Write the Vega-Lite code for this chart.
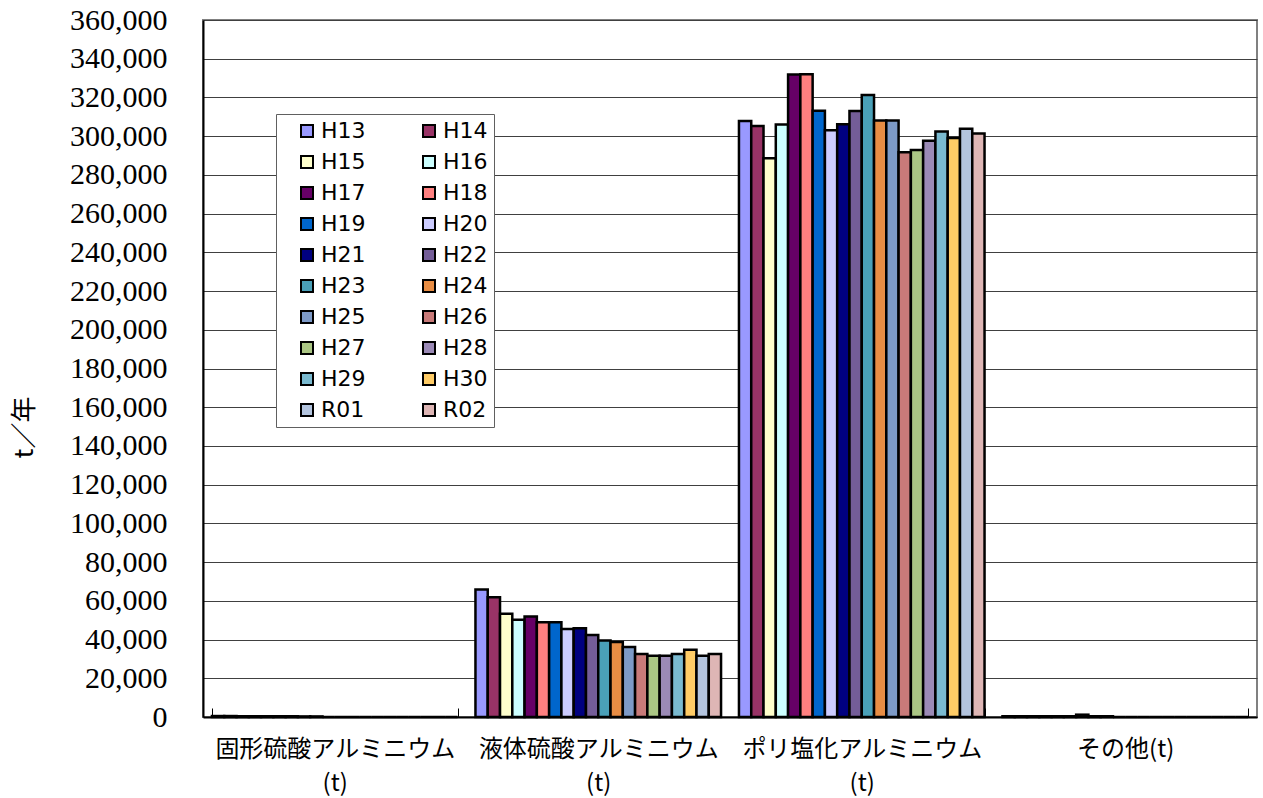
{
  "$schema": "https://vega.github.io/schema/vega-lite/v6.json",
  "autosize": {"type": "none"},
  "padding": {"left": 203, "top": 20, "right": 6, "bottom": 81},
  "width": 1054,
  "height": 697,
  "background": "white",
  "config": {
    "view": {"stroke": "#808080", "strokeWidth": 2},
    "axis": {"labelColor": "black", "titleColor": "black"}
  },
  "datasets": {
    "main": [
      {"cat": "固形硫酸アルミニウム(t)", "year": "H13", "v": 500},
      {"cat": "固形硫酸アルミニウム(t)", "year": "H14", "v": 500},
      {"cat": "固形硫酸アルミニウム(t)", "year": "H15", "v": 400},
      {"cat": "固形硫酸アルミニウム(t)", "year": "H16", "v": 400},
      {"cat": "固形硫酸アルミニウム(t)", "year": "H17", "v": 400},
      {"cat": "固形硫酸アルミニウム(t)", "year": "H18", "v": 400},
      {"cat": "固形硫酸アルミニウム(t)", "year": "H19", "v": 400},
      {"cat": "固形硫酸アルミニウム(t)", "year": "H20", "v": 300},
      {"cat": "固形硫酸アルミニウム(t)", "year": "H21", "v": 300},
      {"cat": "固形硫酸アルミニウム(t)", "year": "H22", "v": 0},
      {"cat": "固形硫酸アルミニウム(t)", "year": "H23", "v": 0},
      {"cat": "固形硫酸アルミニウム(t)", "year": "H24", "v": 0},
      {"cat": "固形硫酸アルミニウム(t)", "year": "H25", "v": 0},
      {"cat": "固形硫酸アルミニウム(t)", "year": "H26", "v": 0},
      {"cat": "固形硫酸アルミニウム(t)", "year": "H27", "v": 0},
      {"cat": "固形硫酸アルミニウム(t)", "year": "H28", "v": 0},
      {"cat": "固形硫酸アルミニウム(t)", "year": "H29", "v": 0},
      {"cat": "固形硫酸アルミニウム(t)", "year": "H30", "v": 0},
      {"cat": "固形硫酸アルミニウム(t)", "year": "R01", "v": 0},
      {"cat": "固形硫酸アルミニウム(t)", "year": "R02", "v": 0},
      {"cat": "液体硫酸アルミニウム(t)", "year": "H13", "v": 65900},
      {"cat": "液体硫酸アルミニウム(t)", "year": "H14", "v": 61800},
      {"cat": "液体硫酸アルミニウム(t)", "year": "H15", "v": 53300},
      {"cat": "液体硫酸アルミニウム(t)", "year": "H16", "v": 50200},
      {"cat": "液体硫酸アルミニウム(t)", "year": "H17", "v": 51900},
      {"cat": "液体硫酸アルミニウム(t)", "year": "H18", "v": 49000},
      {"cat": "液体硫酸アルミニウム(t)", "year": "H19", "v": 49000},
      {"cat": "液体硫酸アルミニウム(t)", "year": "H20", "v": 45400},
      {"cat": "液体硫酸アルミニウム(t)", "year": "H21", "v": 45900},
      {"cat": "液体硫酸アルミニウム(t)", "year": "H22", "v": 42300},
      {"cat": "液体硫酸アルミニウム(t)", "year": "H23", "v": 39500},
      {"cat": "液体硫酸アルミニウム(t)", "year": "H24", "v": 38800},
      {"cat": "液体硫酸アルミニウム(t)", "year": "H25", "v": 36100},
      {"cat": "液体硫酸アルミニウム(t)", "year": "H26", "v": 32600},
      {"cat": "液体硫酸アルミニウム(t)", "year": "H27", "v": 31600},
      {"cat": "液体硫酸アルミニウム(t)", "year": "H28", "v": 31600},
      {"cat": "液体硫酸アルミニウム(t)", "year": "H29", "v": 32600},
      {"cat": "液体硫酸アルミニウム(t)", "year": "H30", "v": 34700},
      {"cat": "液体硫酸アルミニウム(t)", "year": "R01", "v": 31600},
      {"cat": "液体硫酸アルミニウム(t)", "year": "R02", "v": 32600},
      {"cat": "ポリ塩化アルミニウム(t)", "year": "H13", "v": 307800},
      {"cat": "ポリ塩化アルミニウム(t)", "year": "H14", "v": 305200},
      {"cat": "ポリ塩化アルミニウム(t)", "year": "H15", "v": 288600},
      {"cat": "ポリ塩化アルミニウム(t)", "year": "H16", "v": 306000},
      {"cat": "ポリ塩化アルミニウム(t)", "year": "H17", "v": 331900},
      {"cat": "ポリ塩化アルミニウム(t)", "year": "H18", "v": 332000},
      {"cat": "ポリ塩化アルミニウム(t)", "year": "H19", "v": 313100},
      {"cat": "ポリ塩化アルミニウム(t)", "year": "H20", "v": 303100},
      {"cat": "ポリ塩化アルミニウム(t)", "year": "H21", "v": 306200},
      {"cat": "ポリ塩化アルミニウム(t)", "year": "H22", "v": 313000},
      {"cat": "ポリ塩化アルミニウム(t)", "year": "H23", "v": 321300},
      {"cat": "ポリ塩化アルミニウム(t)", "year": "H24", "v": 308100},
      {"cat": "ポリ塩化アルミニウム(t)", "year": "H25", "v": 308100},
      {"cat": "ポリ塩化アルミニウム(t)", "year": "H26", "v": 291700},
      {"cat": "ポリ塩化アルミニウム(t)", "year": "H27", "v": 292900},
      {"cat": "ポリ塩化アルミニウム(t)", "year": "H28", "v": 297600},
      {"cat": "ポリ塩化アルミニウム(t)", "year": "H29", "v": 302400},
      {"cat": "ポリ塩化アルミニウム(t)", "year": "H30", "v": 299100},
      {"cat": "ポリ塩化アルミニウム(t)", "year": "R01", "v": 303800},
      {"cat": "ポリ塩化アルミニウム(t)", "year": "R02", "v": 301400},
      {"cat": "その他(t)", "year": "H13", "v": 400},
      {"cat": "その他(t)", "year": "H14", "v": 400},
      {"cat": "その他(t)", "year": "H15", "v": 400},
      {"cat": "その他(t)", "year": "H16", "v": 400},
      {"cat": "その他(t)", "year": "H17", "v": 400},
      {"cat": "その他(t)", "year": "H18", "v": 400},
      {"cat": "その他(t)", "year": "H19", "v": 1200},
      {"cat": "その他(t)", "year": "H20", "v": 400},
      {"cat": "その他(t)", "year": "H21", "v": 400},
      {"cat": "その他(t)", "year": "H22", "v": 0},
      {"cat": "その他(t)", "year": "H23", "v": 0},
      {"cat": "その他(t)", "year": "H24", "v": 0},
      {"cat": "その他(t)", "year": "H25", "v": 0},
      {"cat": "その他(t)", "year": "H26", "v": 0},
      {"cat": "その他(t)", "year": "H27", "v": 0},
      {"cat": "その他(t)", "year": "H28", "v": 0},
      {"cat": "その他(t)", "year": "H29", "v": 0},
      {"cat": "その他(t)", "year": "H30", "v": 0},
      {"cat": "その他(t)", "year": "R01", "v": 0},
      {"cat": "その他(t)", "year": "R02", "v": 0}
    ]
  },
  "data": {"name": "main"},
  "mark": {"type": "bar", "stroke": "black", "strokeWidth": 2.5},
  "encoding": {
    "x": {
      "field": "cat",
      "type": "nominal",
      "sort": null,
      "scale": {"paddingInner": 0.068, "paddingOuter": 0.034},
      "axis": {
        "title": null,
        "labelAngle": 0,
        "labelFont": "Noto Sans CJK JP",
        "labelFontSize": 24,
        "labelLineHeight": 34,
        "labelExpr": "!datum.value ? '' : (datum.value == 'その他(t)' ? datum.value : [replace(datum.value, '(t)', ''), '(t)'])",
        "labelPadding": 29,
        "labelLimit": 400,
        "tickBand": "extent",
        "tickSize": -9,
        "tickColor": "black",
        "tickWidth": 1,
        "domainColor": "black",
        "domainWidth": 2,
        "grid": false
      }
    },
    "xOffset": {
      "field": "year",
      "type": "nominal",
      "sort": null,
      "scale": {"paddingInner": 0, "paddingOuter": 0}
    },
    "y": {
      "field": "v",
      "type": "quantitative",
      "scale": {"domain": [0, 360000], "nice": false},
      "axis": {
        "title": "t／年",
        "titleFont": "Noto Sans CJK JP",
        "titleFontSize": 26,
        "titleFontWeight": "normal",
        "titleAngle": -90,
        "titleAlign": "center",
        "titleBaseline": "middle",
        "titleX": -179,
        "titleY": 407,
        "values": [0, 20000, 40000, 60000, 80000, 100000, 120000, 140000, 160000, 180000, 200000, 220000, 240000, 260000, 280000, 300000, 320000, 340000, 360000],
        "format": ",d",
        "labelFont": "Liberation Serif",
        "labelFontSize": 30,
        "labelPadding": 36,
        "ticks": false,
        "domainColor": "black",
        "domainWidth": 2,
        "grid": true,
        "gridColor": "#404040",
        "gridWidth": 1
      }
    },
    "color": {
      "field": "year",
      "type": "nominal",
      "sort": null,
      "scale": {
        "domain": ["H13", "H14", "H15", "H16", "H17", "H18", "H19", "H20", "H21", "H22", "H23", "H24", "H25", "H26", "H27", "H28", "H29", "H30", "R01", "R02"],
        "range": ["#9999FF", "#993366", "#FFFFCC", "#CCFFFF", "#660066", "#FF8080", "#0066CC", "#CCCCFF", "#000080", "#745D98", "#4AA0B8", "#E88D44", "#7D9AC7", "#C87A79", "#ABC684", "#9B8AB6", "#7ABAD0", "#FFCC66", "#B3C4DE", "#DEB6B5"]
      },
      "legend": {
        "title": null,
        "orient": "none",
        "direction": "horizontal",
        "legendX": 73,
        "legendY": 94,
        "columns": 2,
        "columnPadding": 38,
        "rowPadding": 9,
        "padding": 6,
        "symbolOffset": 14,
        "symbolType": "square",
        "symbolSize": 144,
        "symbolStrokeColor": "black",
        "symbolStrokeWidth": 2,
        "labelFont": "DejaVu Sans",
        "labelFontSize": 22,
        "labelColor": "black",
        "labelOffset": 3,
        "strokeColor": "#606060",
        "fillColor": "white"
      }
    }
  }
}
